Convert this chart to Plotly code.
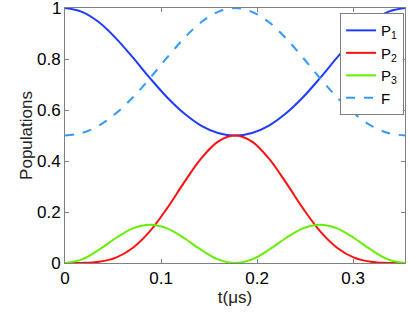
import plotly.graph_objects as go

t = [0.0, 0.0177, 0.0354, 0.0531, 0.0708, 0.0885, 0.1062, 0.1239, 0.1416, 0.1593, 0.177,
     0.1947, 0.2124, 0.2301, 0.2478, 0.2655, 0.2832, 0.3009, 0.3186, 0.3363, 0.354]
p1 = [1.0, 0.985, 0.944, 0.881, 0.805, 0.725, 0.650, 0.587, 0.539, 0.510, 0.5,
      0.510, 0.539, 0.587, 0.650, 0.725, 0.805, 0.881, 0.944, 0.985, 1.0]
p2 = [0.0, 0.0003, 0.005, 0.021, 0.060, 0.125, 0.214, 0.315, 0.409, 0.476, 0.5,
      0.476, 0.409, 0.315, 0.214, 0.125, 0.060, 0.021, 0.005, 0.0003, 0.0]
p3 = [0.0, 0.014, 0.052, 0.098, 0.136, 0.150, 0.136, 0.098, 0.052, 0.014, 0.0,
      0.014, 0.052, 0.098, 0.136, 0.150, 0.136, 0.098, 0.052, 0.014, 0.0]
f = [0.5, 0.510, 0.539, 0.587, 0.650, 0.725, 0.805, 0.881, 0.944, 0.985, 1.0,
     0.985, 0.944, 0.881, 0.805, 0.725, 0.650, 0.587, 0.539, 0.510, 0.5]

x_ticks = [0, 0.1, 0.2, 0.3]
x_labels = ["0", "0.1", "0.2", "0.3"]
y_ticks = [0, 0.2, 0.4, 0.6, 0.8, 1]
y_labels = ["0", "0.2", "0.4", "0.6", "0.8", "1"]

FONT = "Liberation Sans, Arial"

fig = go.Figure()
fig.add_trace(go.Scatter(x=t, y=p1, mode="lines", name="P<sub>1</sub>",
                         line=dict(color="#1f3cff", width=2, shape="spline")))
fig.add_trace(go.Scatter(x=t, y=p2, mode="lines", name="P<sub>2</sub>",
                         line=dict(color="#ff1010", width=2, shape="spline")))
fig.add_trace(go.Scatter(x=t, y=p3, mode="lines", name="P<sub>3</sub>",
                         line=dict(color="#66ee00", width=2, shape="spline")))
fig.add_trace(go.Scatter(x=t, y=f, mode="lines", name="F",
                         line=dict(color="#3399ff", width=2, dash="dash", shape="spline")))

axis_common = dict(showline=True, linecolor="#808080", linewidth=1, mirror="ticks",
                   ticks="inside", ticklen=4, tickcolor="#808080", showgrid=False,
                   zeroline=False, automargin=False,
                   tickfont=dict(family=FONT, size=17, color="black"))

# last y label drawn as an annotation so it is not dropped at the paper edge
y_ticktext = y_labels[:-1] + [""]

fig.update_xaxes(range=[0, 0.354], tickvals=x_ticks, ticktext=x_labels,
                 title=dict(text="t(μs)", font=dict(family=FONT, size=17, color="#222"),
                            standoff=2),
                 **axis_common)
fig.update_yaxes(range=[0, 1], tickvals=y_ticks, ticktext=y_ticktext,
                 title=dict(text="Populations", font=dict(family=FONT, size=17, color="#222"),
                            standoff=0),
                 **axis_common)

fig.add_annotation(x=0, xref="paper", y=y_ticks[-1], yref="y", text=y_labels[-1],
                   showarrow=False, xanchor="right", yanchor="middle", xshift=-2,
                   font=dict(family=FONT, size=17, color="black"))

fig.update_layout(
    width=409, height=314,
    margin=dict(l=65, r=4, t=8, b=51, autoexpand=False),
    paper_bgcolor="white", plot_bgcolor="white",
    showlegend=True,
    legend=dict(x=0.809, y=0.98, xanchor="left", yanchor="top",
                bgcolor="white", bordercolor="#808080", borderwidth=1,
                font=dict(family=FONT, size=15, color="black"),
                tracegroupgap=0, itemwidth=30),
)

fig.write_html("out.html", config={"displayModeBar": False},
               post_script="document.body.style.margin='0';")
